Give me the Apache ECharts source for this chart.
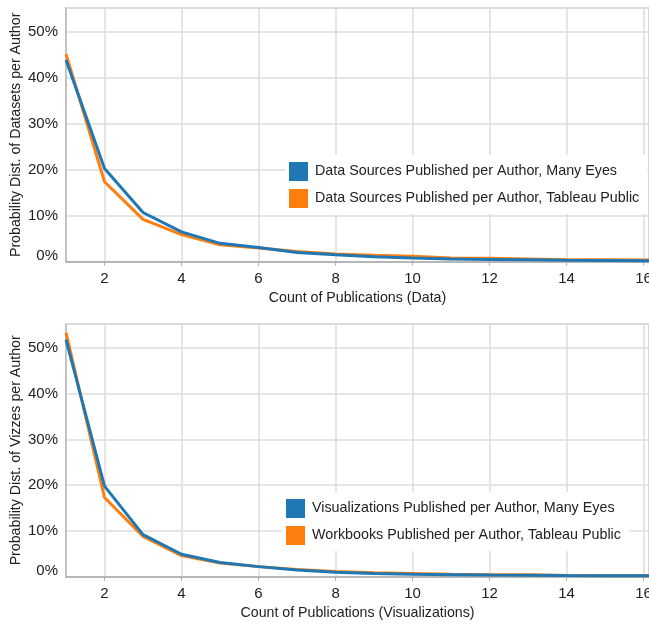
<!DOCTYPE html>
<html>
<head>
<meta charset="utf-8">
<script src="https://cdn.jsdelivr.net/npm/echarts@6/dist/echarts.min.js"></script>
<style>
  html, body { margin: 0; padding: 0; background: #fff; }
  #main { width: 649px; height: 624px; }
</style>
</head>
<body>
<div id="main"></div>
<script>
// publication counts (x)
var counts = [1, 2, 3, 4, 5, 6, 7, 8, 9, 10, 11, 12, 13, 14, 15, 16, 17];
var xTicks = [2, 4, 6, 8, 10, 12, 14, 16];

// top: data sources per author (%)
var dataManyEyes = [43.9, 20.3, 10.7, 6.5, 4.0, 3.1, 2.0, 1.5, 1.1, 0.8, 0.6, 0.5, 0.4, 0.3, 0.25, 0.2, 0.18];
var dataTableau = [45.2, 17.4, 9.2, 5.9, 3.7, 3.0, 2.2, 1.7, 1.4, 1.2, 0.8, 0.75, 0.6, 0.45, 0.4, 0.35, 0.3];

// bottom: vizzes per author (%)
var vizManyEyes = [51.8, 19.8, 9.2, 4.9, 3.1, 2.2, 1.45, 0.95, 0.7, 0.55, 0.45, 0.35, 0.3, 0.25, 0.22, 0.2, 0.2];
var vizTableau = [53.3, 17.3, 8.8, 4.6, 3.0, 2.2, 1.6, 1.15, 0.85, 0.7, 0.55, 0.45, 0.4, 0.25, 0.22, 0.2, 0.2];

var names = {
  dme: 'Data Sources Published per Author, Many Eyes',
  dtp: 'Data Sources Published per Author, Tableau Public',
  vme: 'Visualizations Published per Author, Many Eyes',
  vtp: 'Workbooks Published per Author, Tableau Public'
};

var BLUE = '#1f77b4';
var ORANGE = '#ff7f0e';
var FONT = 'Liberation Sans';

function pairs(vals) {
  return counts.map(function (c, i) { return [c, vals[i]]; });
}

function xAxisFor(idx, title) {
  return {
    type: 'value',
    gridIndex: idx,
    min: 1,
    max: 16.14,
    name: title,
    nameLocation: 'middle',
    nameGap: 29,
    nameMoveOverlap: false,
    nameTextStyle: { fontFamily: FONT, fontSize: 14.2, color: '#222' },
    axisLine: { lineStyle: { color: '#aaa', width: 1.5 } },
    axisTick: { show: true, length: 4, customValues: xTicks, lineStyle: { color: '#aaa' } },
    axisLabel: { customValues: xTicks, margin: 10, fontFamily: FONT, fontSize: 15, color: '#222' },
    splitLine: { show: true, lineStyle: { color: '#ddd', width: 1.5 } }
  };
}

function yAxisFor(idx, title) {
  return {
    type: 'value',
    gridIndex: idx,
    min: 0,
    max: 55.2,
    interval: 10,
    name: title,
    nameLocation: 'middle',
    nameGap: 43,
    nameMoveOverlap: false,
    nameTextStyle: { fontFamily: FONT, fontSize: 14.2, color: '#222' },
    axisLine: { show: true, lineStyle: { color: '#bbb', width: 1.5 } },
    axisTick: { show: false },
    axisLabel: {
      margin: 8, fontFamily: FONT, fontSize: 15, color: '#222',
      showMaxLabel: false,
      formatter: function (v) {
        // the 0% label sits a little above its gridline
        return v === 0 ? '{z|0%}' : v + '%';
      },
      rich: { z: { fontFamily: FONT, fontSize: 15, color: '#222', padding: [0, 0, 12, 0] } }
    },
    splitLine: { show: true, lineStyle: { color: '#ddd', width: 1.5 } }
  };
}

function lineSeries(name, vals, color, idx) {
  return {
    name: name,
    type: 'line',
    xAxisIndex: idx,
    yAxisIndex: idx,
    data: pairs(vals),
    showSymbol: false,
    symbol: 'none',
    color: color,
    lineStyle: { width: 3, color: color },
    clip: true,
    animation: false
  };
}

function legendFor(items, left, top) {
  return {
    orient: 'vertical',
    left: left,
    top: top,
    data: items,
    icon: 'rect',
    itemWidth: 19,
    itemHeight: 19,
    itemGap: 8,
    backgroundColor: '#fff',
    padding: [7, 8, 6, 4],
    textStyle: { fontFamily: FONT, fontSize: 14.3, color: '#222', padding: [0, 0, 0, 2] }
  };
}

var chart = echarts.init(document.getElementById('main'), null, { renderer: 'canvas' });

var option = {
  animation: false,
  backgroundColor: '#fff',
  grid: [
    { left: 66, top: 8, width: 583, height: 253.7, containLabel: false, outerBoundsMode: 'none',
      show: true, borderColor: '#ccc', borderWidth: 1.5 },
    { left: 66, top: 324, width: 583, height: 252.7, containLabel: false, outerBoundsMode: 'none',
      show: true, borderColor: '#ccc', borderWidth: 1.5 }
  ],
  xAxis: [
    xAxisFor(0, 'Count of Publications (Data)'),
    xAxisFor(1, 'Count of Publications (Visualizations)')
  ],
  yAxis: [
    yAxisFor(0, 'Probability Dist. of Datasets per Author'),
    yAxisFor(1, 'Probability Dist. of Vizzes per Author')
  ],
  legend: [
    legendFor([names.dme, names.dtp], 285, 155),
    legendFor([names.vme, names.vtp], 282, 492)
  ],
  series: [
    // orange first so the blue line sits on top
    lineSeries(names.dtp, dataTableau, ORANGE, 0),
    lineSeries(names.dme, dataManyEyes, BLUE, 0),
    lineSeries(names.vtp, vizTableau, ORANGE, 1),
    lineSeries(names.vme, vizManyEyes, BLUE, 1)
  ]
};

chart.setOption(option);
</script>
</body>
</html>
